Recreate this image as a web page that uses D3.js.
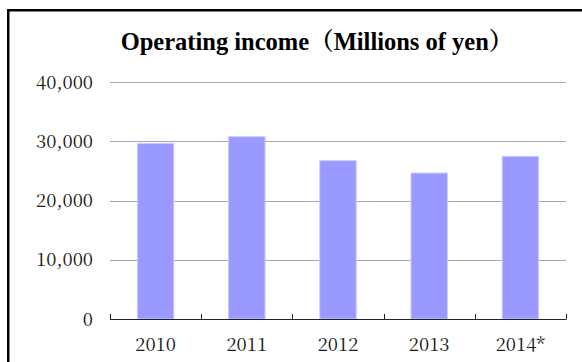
<!DOCTYPE html>
<html>
<head>
<meta charset="utf-8">
<script src="https://cdn.jsdelivr.net/npm/d3@7"></script>
<style>
  html, body { margin: 0; padding: 0; background: #fff; }
  svg { display: block; }
</style>
</head>
<body>
<svg id="chart" width="582" height="362"></svg>
<script>
// Operating income by fiscal year (millions of yen)
const years = ["2010", "2011", "2012", "2013", "2014*"];
const income = [29650, 30770, 26720, 24640, 27460];
const yTicks = [0, 10000, 20000, 30000, 40000];
const titleText = "Operating income（Millions of yen）";

const svg = d3.select("#chart");
const W = 582, H = 362;
const plot = { left: 110, right: 566, top: 82, bottom: 319 };
const labelFont = "'Noto Serif CJK JP', 'Liberation Serif', serif";

// outer frame, open to the right and bottom edges
svg.append("rect")
  .attr("x", 8.25).attr("y", 10.25)
  .attr("width", W).attr("height", H)
  .attr("fill", "none").attr("stroke", "#000").attr("stroke-width", 2.5);

const x = d3.scaleBand()
  .domain(years)
  .range([plot.left, plot.right])
  .paddingInner(0.6)
  .paddingOuter(0.3);

const y = d3.scaleLinear()
  .domain([0, 40000])
  .range([plot.bottom, plot.top]);

// horizontal gridlines
svg.append("g")
  .selectAll("line")
  .data(yTicks.filter(d => d > 0))
  .join("line")
  .attr("x1", plot.left).attr("x2", plot.right)
  .attr("y1", d => Math.round(y(d)) + 0.5).attr("y2", d => Math.round(y(d)) + 0.5)
  .attr("stroke", "#a8a8a8").attr("stroke-width", 1);

// y labels
const fmt = d3.format(",");
svg.append("g")
  .selectAll("text")
  .data(yTicks)
  .join("text")
  .attr("x", 93)
  .attr("y", d => y(d))
  .attr("dy", "0.36em")
  .attr("text-anchor", "end")
  .attr("font-family", labelFont)
  .attr("font-size", 18.5)
  .attr("fill", "#1a1a1a")
  .text(d => fmt(d));

// bars
svg.append("g")
  .selectAll("rect")
  .data(income)
  .join("rect")
  .attr("x", (d, i) => x(years[i]))
  .attr("y", d => y(d))
  .attr("width", x.bandwidth())
  .attr("height", d => y(0) - y(d))
  .attr("fill", "#9999ff")
  .attr("stroke", "#ccccff")
  .attr("stroke-width", 1);

// x axis with inward category dividers
const xAxis = svg.append("g");
xAxis.append("line")
  .attr("x1", plot.left).attr("x2", plot.right)
  .attr("y1", plot.bottom + 0.5).attr("y2", plot.bottom + 0.5)
  .attr("stroke", "#222").attr("stroke-width", 1);
const step = x.step();
const dividers = d3.range(years.length + 1).map(i => plot.left + i * step);
xAxis.selectAll("line.div")
  .data(dividers)
  .join("line")
  .attr("class", "div")
  .attr("x1", d => Math.round(d) + 0.5).attr("x2", d => Math.round(d) + 0.5)
  .attr("y1", plot.bottom - 5).attr("y2", plot.bottom + 0.5)
  .attr("stroke", "#222").attr("stroke-width", 1);

svg.append("g")
  .selectAll("text")
  .data(years)
  .join("text")
  .attr("x", d => x(d) + x.bandwidth() / 2)
  .attr("y", 351)
  .attr("text-anchor", "middle")
  .attr("font-family", labelFont)
  .attr("font-size", 18.5)
  .attr("fill", "#1a1a1a")
  .text(d => d);

// title
svg.append("text")
  .attr("x", 317)
  .attr("y", 50)
  .attr("text-anchor", "middle")
  .attr("font-family", "'Liberation Serif', 'Noto Serif CJK JP', serif")
  .attr("font-weight", "bold")
  .attr("font-size", 24.5)
  .attr("fill", "#000")
  .text(titleText);
</script>
</body>
</html>
